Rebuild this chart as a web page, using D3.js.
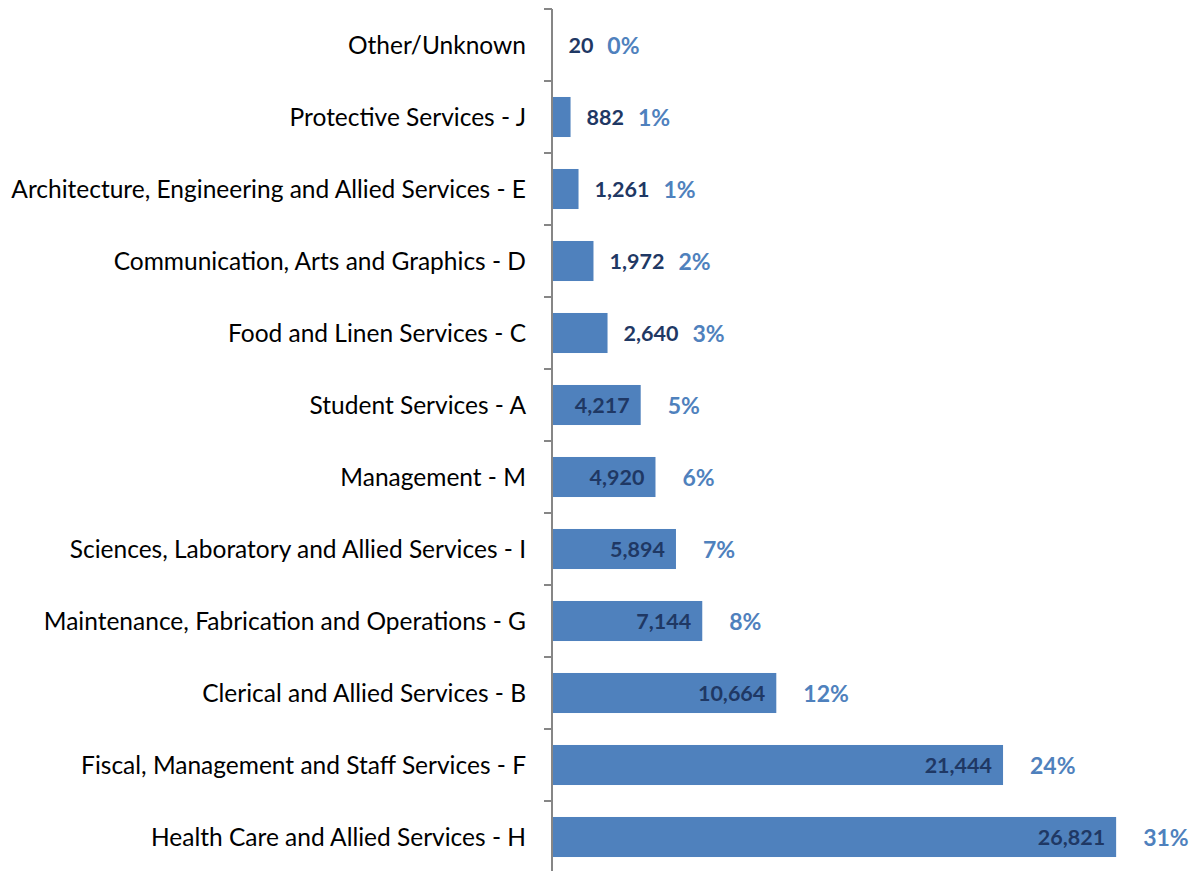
<!DOCTYPE html>
<html>
<head>
<meta charset="utf-8">
<script src="https://cdn.jsdelivr.net/npm/d3@7"></script>
<style>
  body { margin: 0; background: #fff; }
  svg { display: block; font-family: Lato, "Open Sans", sans-serif; }
</style>
</head>
<body>
<div id="chart"></div>
<script>
// categories top to bottom, as in the picture
var categories = [
    'Other/Unknown',
    'Protective Services - J',
    'Architecture, Engineering and Allied Services - E',
    'Communication, Arts and Graphics - D',
    'Food and Linen Services - C',
    'Student Services - A',
    'Management - M',
    'Sciences, Laboratory and Allied Services - I',
    'Maintenance, Fabrication and Operations - G',
    'Clerical and Allied Services - B',
    'Fiscal, Management and Staff Services - F',
    'Health Care and Allied Services - H'
]
var counts = [20, 882, 1261, 1972, 2640, 4217, 4920, 5894, 7144, 10664, 21444, 26821]
var percents = ['0%', '1%', '1%', '2%', '3%', '5%', '6%', '7%', '8%', '12%', '24%', '31%']

var width = 1191, height = 871
var axisX = 552

var svg = d3.select('#chart')
    .append('svg')
        .attr('width', width)
        .attr('height', height)

var x = d3.scaleLinear()
    .domain([0, 30000])
    .range([axisX, 1183])

var y = d3.scaleBand()
    .domain(categories)
    .range([9, 873])
    .paddingInner(0.444)
    .paddingOuter(0.222)

var gap = (y.step() - y.bandwidth()) / 2

// bars
svg.selectAll('rect.bar')
    .data(categories)
    .enter().append('rect')
        .attr('class', 'bar')
        .attr('x', axisX)
        .attr('y', function(d) { return y(d) })
        .attr('width', function(d, i) { return x(counts[i]) - axisX })
        .attr('height', y.bandwidth())
        .attr('fill', '#4f81bd')

// vertical axis line + tick marks between categories
svg.append('line')
    .attr('x1', axisX).attr('x2', axisX)
    .attr('y1', y.range()[0]).attr('y2', height)
    .attr('stroke', '#868686')
    .attr('stroke-width', 2)

var boundaries = categories.map(function(d) { return y(d) - gap })
boundaries.push(y.range()[1])
svg.selectAll('line.tick')
    .data(boundaries)
    .enter().append('line')
        .attr('class', 'tick')
        .attr('x1', axisX - 8).attr('x2', axisX)
        .attr('y1', function(d) { return d }).attr('y2', function(d) { return d })
        .attr('stroke', '#868686')
        .attr('stroke-width', 2)

// category labels
svg.selectAll('text.cat')
    .data(categories)
    .enter().append('text')
        .attr('class', 'cat')
        .attr('x', axisX - 26)
        .attr('y', function(d) { return y(d) + y.bandwidth() / 2 })
        .attr('dy', '0.35em')
        .attr('text-anchor', 'end')
        .attr('font-size', '24.5px')
        .attr('fill', '#000')
        .text(function(d) { return d })

// value labels: inside the bar end when they fit, else just outside
var fmt = d3.format(',')
var labelEnds = []
svg.selectAll('text.val')
    .data(categories)
    .enter().append('text')
        .attr('class', 'val')
        .attr('y', function(d) { return y(d) + y.bandwidth() / 2 })
        .attr('dy', '0.37em')
        .attr('font-size', '21.5px')
        .attr('font-weight', 'bold')
        .attr('fill', '#1f3864')
        .text(function(d, i) { return fmt(counts[i]) })
        .each(function(d, i) {
            var w = this.getComputedTextLength()
            var barEnd = x(counts[i])
            var el = d3.select(this)
            if (barEnd - axisX > w + 20) {
                el.attr('x', barEnd - 11).attr('text-anchor', 'end')
                labelEnds[i] = barEnd + 13
            } else {
                el.attr('x', barEnd + 16).attr('text-anchor', 'start')
                labelEnds[i] = barEnd + 16 + w
            }
        })

// percent labels
svg.selectAll('text.pct')
    .data(categories)
    .enter().append('text')
        .attr('class', 'pct')
        .attr('x', function(d, i) { return labelEnds[i] + 14 })
        .attr('y', function(d) { return y(d) + y.bandwidth() / 2 })
        .attr('dy', '0.37em')
        .attr('font-size', '23px')
        .attr('font-weight', 'bold')
        .attr('fill', '#4f81bd')
        .text(function(d, i) { return percents[i] })
</script>
</body>
</html>
